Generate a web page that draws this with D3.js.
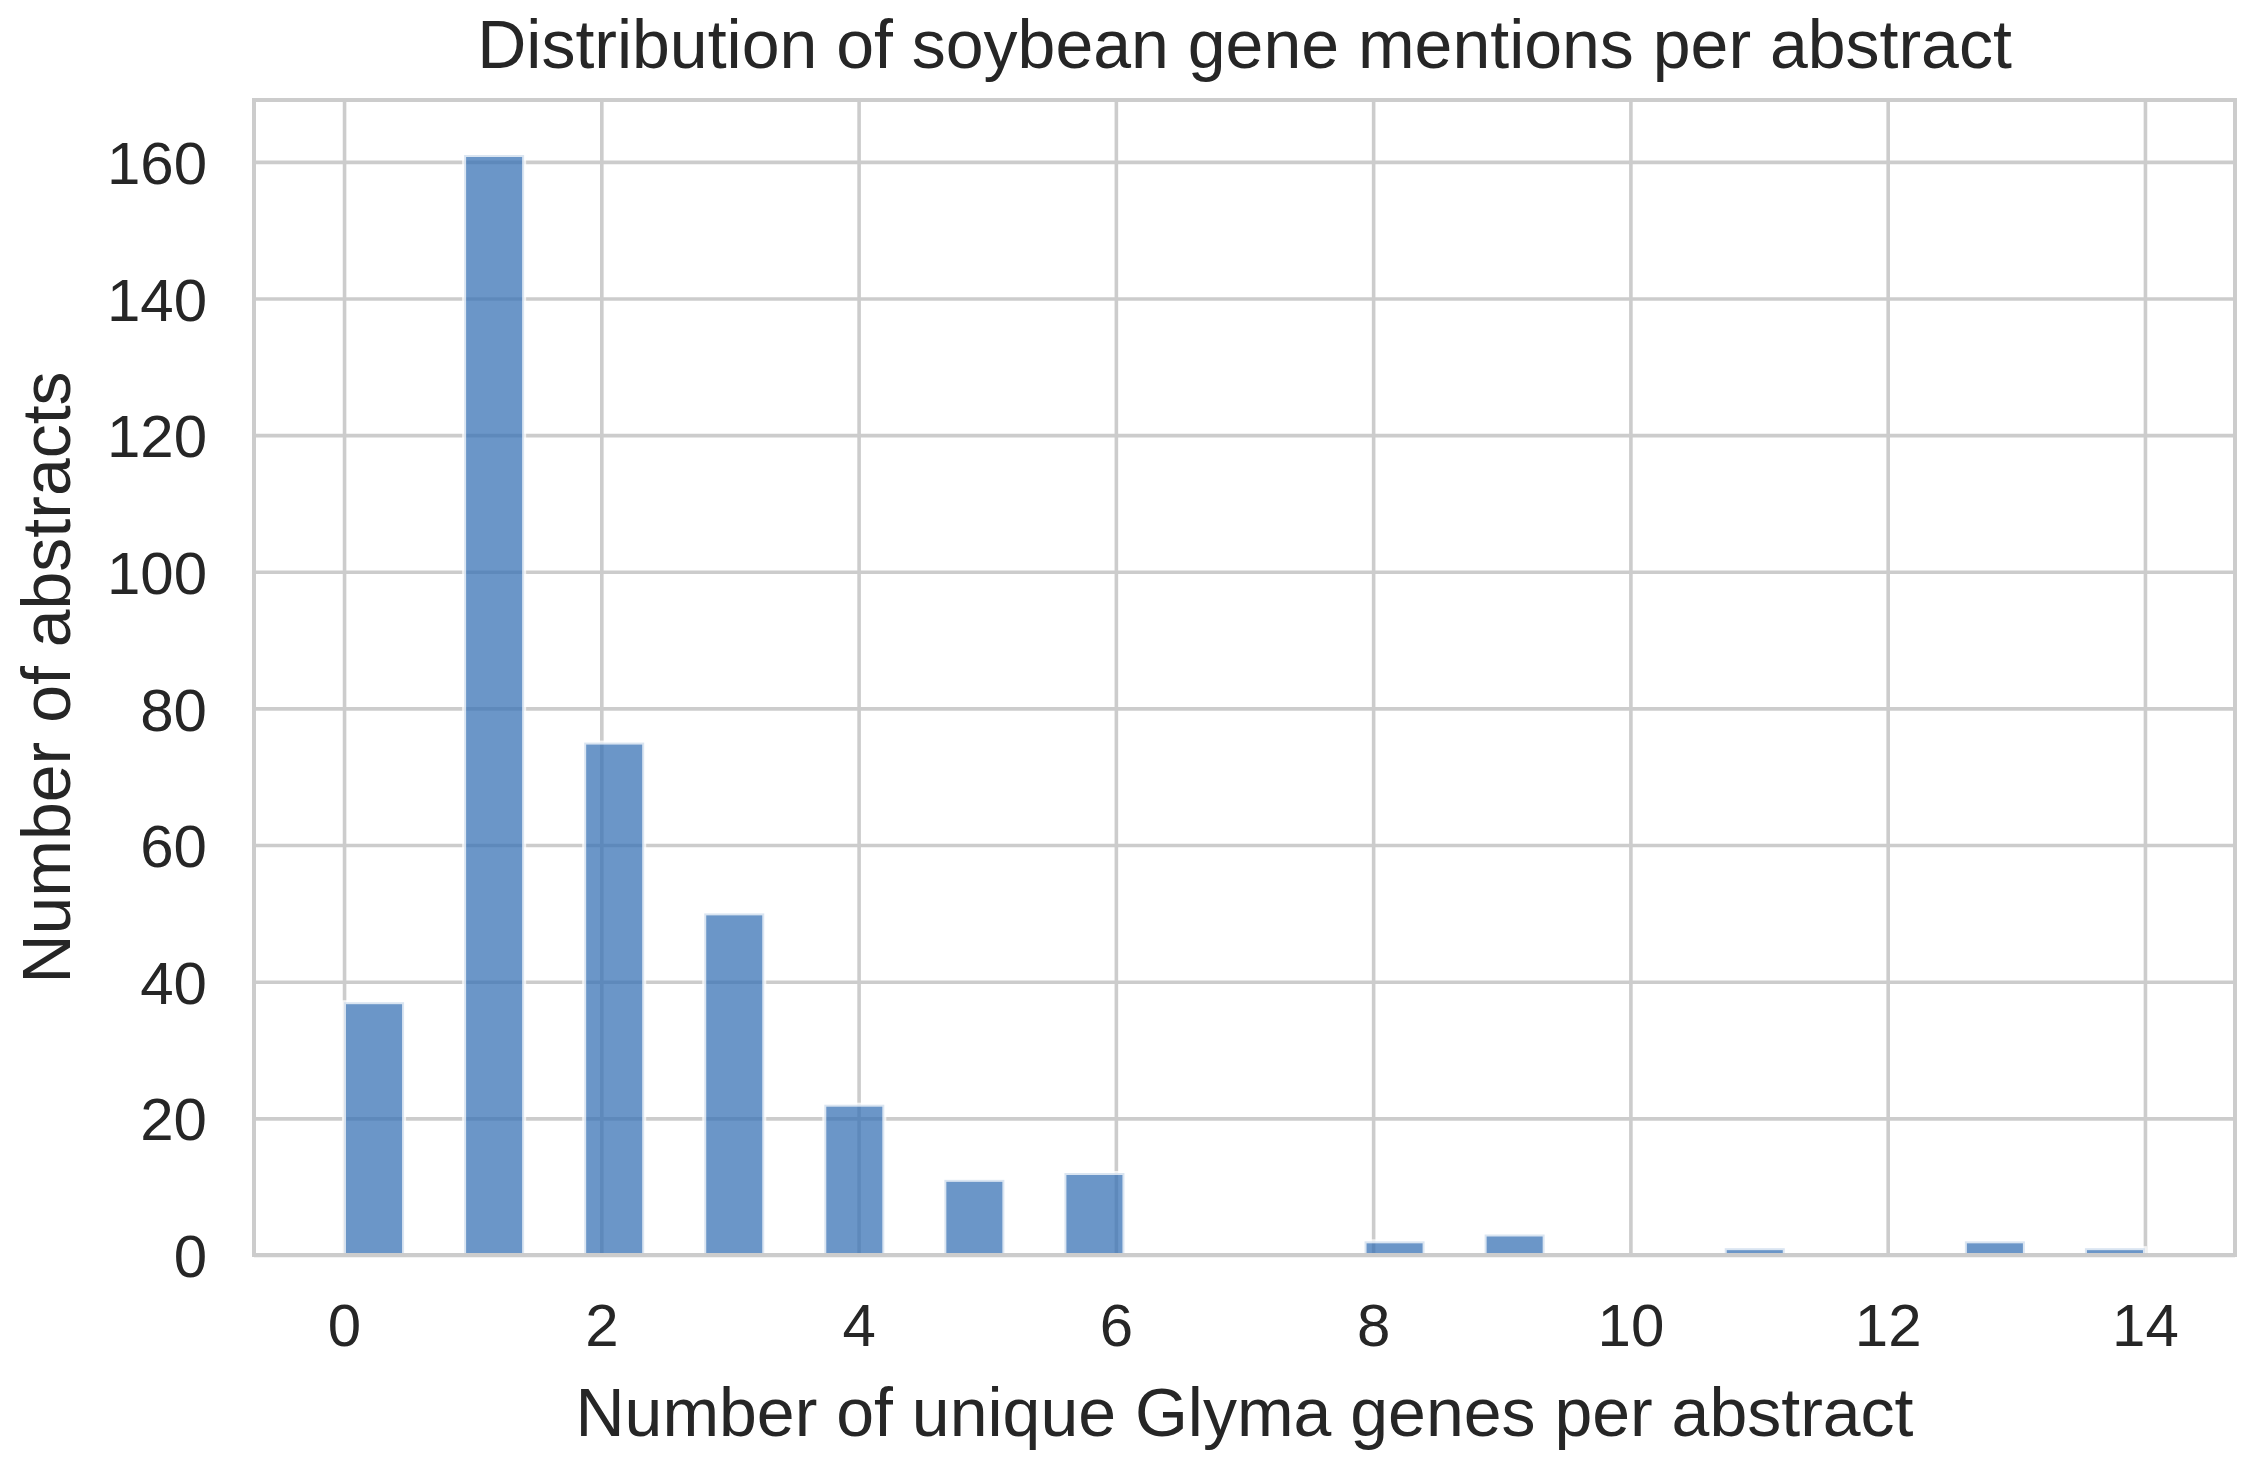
<!DOCTYPE html>
<html>
<head>
<meta charset="utf-8">
<script src="https://cdn.jsdelivr.net/npm/d3@7"></script>
<style>
  html, body { margin: 0; padding: 0; background: #ffffff; }
  svg { display: block; }
  text { font-family: "Liberation Sans", Arial, sans-serif; fill: #262626; }
</style>
</head>
<body>
<svg id="chart" width="2252" height="1465"></svg>
<script>
// ---- data ----
const geneCounts = [0, 1, 2, 3, 4, 5, 6, 8, 9, 11, 13, 14];          // unique Glyma genes per abstract
const abstractCounts = [37, 161, 75, 50, 22, 11, 12, 2, 3, 1, 2, 1];  // number of abstracts
const binCount = 30;
const binMin = 0;
const binMax = 14;
const xTicks = [0, 2, 4, 6, 8, 10, 12, 14];
const yTicks = [0, 20, 40, 60, 80, 100, 120, 140, 160];
const titleText = "Distribution of soybean gene mentions per abstract";
const xLabelText = "Number of unique Glyma genes per abstract";
const yLabelText = "Number of abstracts";

// ---- histogram bins (seaborn-like: 30 equal bins over data range) ----
const binWidth = (binMax - binMin) / binCount;
const bars = geneCounts.map((g, i) => {
  let idx = Math.floor((g - binMin) / binWidth);
  if (idx >= binCount) idx = binCount - 1;
  return { x0: binMin + idx * binWidth, x1: binMin + (idx + 1) * binWidth, count: abstractCounts[i] };
});

// ---- layout ----
const plot = { left: 254, right: 2235, top: 100, bottom: 1255 };
const xPad = (binMax - binMin) * 0.05;
const yMaxData = d3.max(abstractCounts) * 1.05;

const x = d3.scaleLinear().domain([binMin - xPad, binMax + xPad]).range([plot.left, plot.right]);
const y = d3.scaleLinear().domain([0, yMaxData]).range([plot.bottom, plot.top]);

const svg = d3.select("#chart");
const gridColor = "#cccccc";

// grid
const gx = svg.append("g")
  .attr("transform", `translate(0,${plot.bottom})`)
  .call(d3.axisBottom(x).tickValues(xTicks).tickSize(-(plot.bottom - plot.top)).tickFormat(""));
gx.select(".domain").remove();
gx.selectAll("line").attr("stroke", gridColor).attr("stroke-width", 3.6);

const gy = svg.append("g")
  .attr("transform", `translate(${plot.left},0)`)
  .call(d3.axisLeft(y).tickValues(yTicks).tickSize(-(plot.right - plot.left)).tickFormat(""));
gy.select(".domain").remove();
gy.selectAll("line").attr("stroke", gridColor).attr("stroke-width", 3.6);

// bars
svg.append("g").selectAll("rect")
  .data(bars)
  .join("rect")
  .attr("x", d => x(d.x0))
  .attr("width", d => x(d.x1) - x(d.x0))
  .attr("y", d => y(d.count))
  .attr("height", d => y(0) - y(d.count))
  .attr("fill", "rgb(58,115,182)")
  .attr("fill-opacity", 0.75)
  .attr("stroke", "#ffffff")
  .attr("stroke-opacity", 0.75)
  .attr("stroke-width", 4);

// spines
svg.append("rect")
  .attr("x", plot.left).attr("y", plot.top)
  .attr("width", plot.right - plot.left).attr("height", plot.bottom - plot.top)
  .attr("fill", "none").attr("stroke", gridColor).attr("stroke-width", 4);

// tick labels
const xAxis = svg.append("g")
  .attr("transform", `translate(0,${plot.bottom})`)
  .call(d3.axisBottom(x).tickValues(xTicks).tickSize(0).tickPadding(0).tickFormat(d3.format("d")));
xAxis.select(".domain").remove();
xAxis.selectAll("text")
  .attr("y", 91).attr("dy", null)
  .style("font-size", "60px")
  .style("font-family", "'Liberation Sans', Arial, sans-serif")
  .attr("fill", "#262626");

const yAxis = svg.append("g")
  .attr("transform", `translate(${plot.left},0)`)
  .call(d3.axisLeft(y).tickValues(yTicks).tickSize(0).tickPadding(0).tickFormat(d3.format("d")));
yAxis.select(".domain").remove();
yAxis.selectAll("text")
  .attr("x", -47).attr("dy", "0.36em")
  .style("font-size", "60px")
  .style("font-family", "'Liberation Sans', Arial, sans-serif")
  .attr("fill", "#262626");

// title & labels
const cx = (plot.left + plot.right) / 2;
svg.append("text")
  .attr("x", cx).attr("y", 68)
  .attr("text-anchor", "middle")
  .style("font-size", "68px")
  .text(titleText);

svg.append("text")
  .attr("x", cx).attr("y", 1436)
  .attr("text-anchor", "middle")
  .style("font-size", "68px")
  .text(xLabelText);

svg.append("text")
  .attr("transform", `translate(70,${(plot.top + plot.bottom) / 2}) rotate(-90)`)
  .attr("text-anchor", "middle")
  .style("font-size", "68px")
  .text(yLabelText);
</script>
</body>
</html>
